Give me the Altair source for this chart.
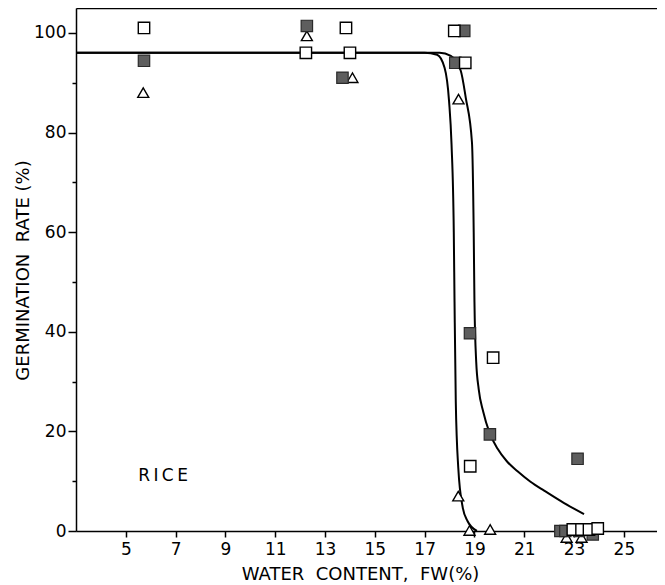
import altair as alt
import pandas as pd

# ---- data ----
# open squares
sq_open_x = [5.73, 12.23, 13.84, 14.0, 18.19, 18.63, 19.75, 18.83, 22.95, 23.3, 23.6, 23.95]
sq_open_y = [101.0, 96.0, 101.0, 96.0, 100.4, 94.0, 34.8, 13.0, 0.3, 0.3, 0.3, 0.5]
# filled (stippled) squares
sq_fill_x = [5.73, 12.27, 13.7, 18.59, 18.23, 18.82, 19.62, 23.14, 22.45, 22.65, 23.2, 23.75]
sq_fill_y = [94.4, 101.4, 91.0, 100.4, 94.0, 39.7, 19.4, 14.5, 0.0, 0.0, 0.0, -0.7]
# open triangles
tri_x = [5.7, 12.27, 14.1, 18.36, 18.35, 18.8, 19.63, 22.7, 23.3]
tri_y = [88.0, 99.4, 91.0, 86.7, 7.0, 0.1, 0.3, -1.3, -1.3]

# fitted curves
curve_a_x = [3.0, 10.0, 17.0, 17.5, 17.8, 17.98, 18.08, 18.17, 18.2, 18.25, 18.35, 18.53, 18.72, 19.1]
curve_a_y = [96.0, 96.0, 96.0, 95.6, 93.0, 86.3, 77.6, 60.0, 46.0, 26.0, 12.7, 4.7, 2.0, 0.0]
curve_b_x = [3.0, 10.0, 17.0, 17.6, 18.05, 18.45, 18.65, 18.9, 18.97, 19.0, 19.07, 19.17,
             19.35, 19.6, 19.93, 20.3, 20.73, 21.25, 21.8, 22.6, 23.4]
curve_b_y = [96.0, 96.0, 96.0, 96.0, 95.4, 92.4, 87.0, 78.0, 60.0, 46.0, 34.0, 28.5,
             24.0, 19.8, 16.5, 14.0, 12.0, 9.9, 8.1, 5.6, 3.4]

x_ticks = [5, 7, 9, 11, 13, 15, 17, 19, 21, 23, 25]
y_ticks = [0, 10, 20, 30, 40, 50, 60, 70, 80, 90, 100]

label_text = ["R\u2009I\u2009C\u2009E"]
label_x = [5.5]
label_y = [10.0]

FONT = "DejaVu Sans"
SP = "\u00a0"

# ---- tables ----
df_open = pd.DataFrame({"x": sq_open_x, "y": sq_open_y})
df_fill = pd.DataFrame({"x": sq_fill_x, "y": sq_fill_y})
df_tri = pd.DataFrame({"x": tri_x, "y": tri_y})
df_curve = pd.concat([
    pd.DataFrame({"x": curve_a_x, "y": curve_a_y, "curve": "a"}),
    pd.DataFrame({"x": curve_b_x, "y": curve_b_y, "curve": "b"}),
])
df_label = pd.DataFrame({"x": label_x, "y": label_y, "t": label_text})

xscale = alt.Scale(domain=[3, 26.33], nice=False, zero=False)
yscale = alt.Scale(domain=[0, 105], nice=False, zero=False)

x_axis = alt.Axis(
    values=x_ticks, title=f"WATER{SP}{SP}CONTENT,{SP}{SP}FW(%)", grid=False,
    domainColor="black", domainWidth=1.5, tickColor="black", tickWidth=1.5, tickSize=6,
    labelFont=FONT, labelFontSize=17, labelColor="black", labelPadding=4,
    titleFont=FONT, titleFontSize=18, titleFontWeight="normal", titleColor="black",
    titleBaseline="alphabetic", titleY=48, titleX=284,
)
y_axis = alt.Axis(
    values=y_ticks, title=f"GERMINATION{SP}{SP}RATE{SP}(%)", grid=False,
    labelExpr="datum.value % 20 == 0 ? datum.label : ''",
    domainColor="black", domainWidth=1.5, tickColor="black", tickWidth=1.5,
    tickSize={"condition": {"test": "datum.value % 20 == 0", "value": 8}, "value": 4},
    labelFont=FONT, labelFontSize=17, labelColor="black", labelPadding=2,
    titleFont=FONT, titleFontSize=18, titleFontWeight="normal", titleColor="black",
    titleAngle=270, titleBaseline="bottom", titleAlign="center", titleX=-44, titleY=262,
)
top_axis = alt.Axis(orient="top", labels=False, ticks=False, title=None, grid=False,
                    domainColor="black", domainWidth=1.5)

lines = alt.Chart(df_curve).mark_line(color="black", strokeWidth=2, interpolate="monotone").encode(
    x=alt.X("x:Q", scale=xscale, axis=None),
    y=alt.Y("y:Q", scale=yscale, axis=None),
    detail="curve:N",
)

tri = alt.Chart(df_tri).mark_point(shape="triangle-up", size=120, filled=True, fill="white",
                                   stroke="black", strokeWidth=1.4, opacity=1).encode(
    x=alt.X("x:Q", scale=xscale, axis=None),
    y=alt.Y("y:Q", scale=yscale, axis=None),
)

fill_sq = alt.Chart(df_fill).mark_point(shape="square", size=130, filled=True, fill="#5e5e5e",
                                        stroke="#2a2a2a", strokeWidth=1.2, opacity=1).encode(
    x=alt.X("x:Q", scale=xscale, axis=None),
    y=alt.Y("y:Q", scale=yscale, axis=None),
)

open_sq = alt.Chart(df_open).mark_point(shape="square", size=130, filled=True, fill="white",
                                        stroke="black", strokeWidth=1.4, opacity=1).encode(
    x=alt.X("x:Q", scale=xscale, axis=x_axis),
    y=alt.Y("y:Q", scale=yscale, axis=y_axis),
)

label = alt.Chart(df_label).mark_text(font=FONT, fontSize=17, align="left", baseline="alphabetic",
                                      color="black").encode(
    x=alt.X("x:Q", scale=xscale, axis=top_axis),
    y=alt.Y("y:Q", scale=yscale, axis=None),
    text="t:N",
)

chart = alt.layer(lines, tri, fill_sq, open_sq, label).resolve_axis(
    x="independent", y="independent"
).properties(
    width=581, height=523,
    autosize=alt.AutoSizeParams(type="none"),
    padding={"left": 68, "top": 0, "right": 0, "bottom": 54},
).configure_view(stroke=None).configure(background="white")

chart.save("out.html", embed_options={"renderer": "svg", "actions": False})
